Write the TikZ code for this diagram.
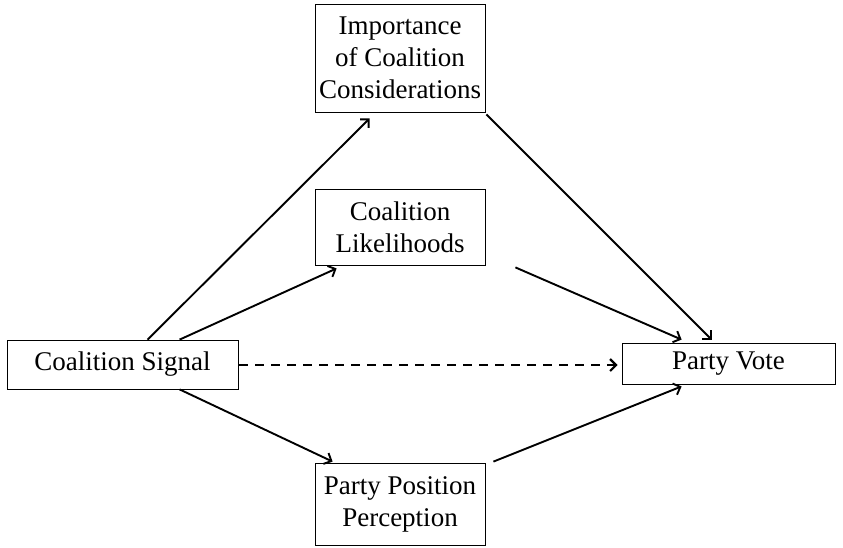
\documentclass[tikz,border=0pt]{standalone}
\usepackage{fontspec}
\setmainfont{Liberation Serif}
\usetikzlibrary{calc,arrows.meta}
\tikzset{
  box/.style={draw, line width=0.8pt, align=center, inner sep=0pt,
    font=\fontsize{27}{32}\selectfont},
  arr/.style={line width=1.9pt, -{Straight Barb[length=6pt,width=12pt]}},
}
\begin{document}
\begin{tikzpicture}[x=1pt,y=-1pt]
\useasboundingbox (0,0) rectangle (843,547);
\node[box, minimum width=170pt, minimum height=108pt] (imp) at (400,58) {Importance\\of Coalition\\Considerations};
\node[box, minimum width=170pt, minimum height=76pt] (lik) at (400,227) {Coalition\\Likelihoods};
\node[box, minimum width=231pt, minimum height=49pt] (sig) at (122.5,364.5) {Coalition Signal};
\node[box, minimum width=213pt, minimum height=41pt] (vote) at (728.5,363.5) {Party Vote};
\node[box, minimum width=170pt, minimum height=82pt] (pos) at (400,504) {Party Position\\Perception};

\draw[arr] ($(sig.north west)+(141,0)$) -- ($(imp.south west)+(55,6)$);
\draw[arr] ($(sig.north west)+(173,0)$) -- ($(lik.south west)+(22,3)$);
\draw[arr, line width=2.2pt, dash pattern=on 9pt off 7pt] ($(sig.east)+(1,0.5)$) -- ($(sig.east -| vote.west)+(-4,0.5)$);
\draw[arr] ($(sig.south west)+(173,0)$) -- ($(pos.north west)+(18,-1)$);
\draw[arr] ($(imp.south east)+(1,2)$) -- ($(vote.north west)+(90,-3)$);
\draw[arr] ($(lik.south east)+(30,2)$) -- ($(vote.north west)+(60,-3)$);
\draw[arr] ($(pos.north east)+(8,-1)$) -- ($(vote.south west)+(60,2)$);
\end{tikzpicture}
\end{document}
